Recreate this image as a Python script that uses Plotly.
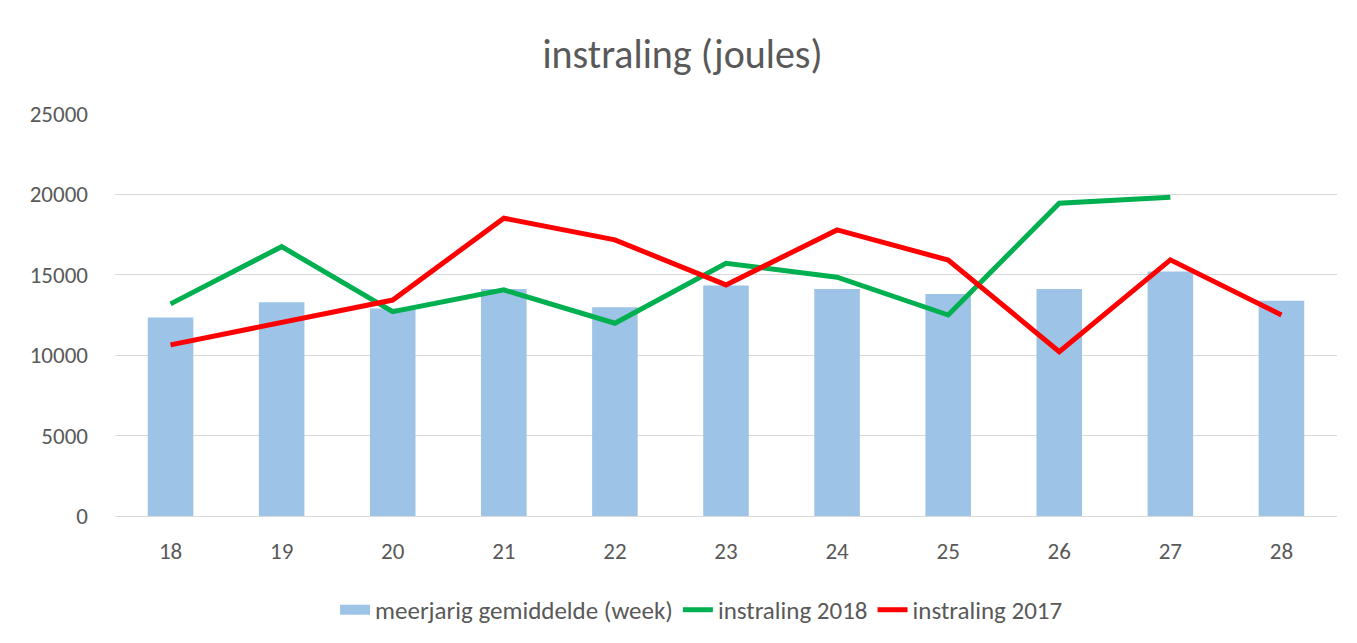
import plotly.graph_objects as go

weeks = ["18", "19", "20", "21", "22", "23", "24", "25", "26", "27", "28"]
avg_week = [12350, 13300, 12900, 14120, 12980, 14330, 14120, 13810, 14120, 15200, 13390]
instr_2018 = [13190, 16750, 12710, 14060, 11990, 15720, 14850, 12500, 19450, 19820, None]
instr_2017 = [10640, 12000, 13430, 18520, 17170, 14370, 17790, 15920, 10220, 15930, 12500]

FONT = "Calibri, Carlito, Lato, 'Open Sans', sans-serif"
GRAY = "#595959"
BAR_COLOR = "#9DC3E6"

fig = go.Figure()
fig.add_trace(go.Bar(x=weeks, y=avg_week, name="meerjarig gemiddelde (week)",
                     marker=dict(color=BAR_COLOR, line=dict(width=0)),
                     showlegend=False, legendgroup="avg"))
# legend entry drawn as a wide block, like the original
fig.add_trace(go.Scatter(x=[None], y=[None], name="meerjarig gemiddelde (week)", mode="lines",
                         line=dict(color=BAR_COLOR, width=16), legendgroup="avg",
                         hoverinfo="skip"))
fig.add_trace(go.Scatter(x=weeks, y=instr_2018, name="instraling 2018", mode="lines",
                         line=dict(color="#00B050", width=5), connectgaps=False))
fig.add_trace(go.Scatter(x=weeks, y=instr_2017, name="instraling 2017", mode="lines",
                         line=dict(color="#FF0000", width=5)))

fig.update_layout(
    width=1349, height=635,
    paper_bgcolor="white", plot_bgcolor="white",
    margin=dict(l=107, r=20, t=106, b=127, autoexpand=False),
    bargap=0.59,
    title=dict(text="instraling (joules)", x=0.5, xanchor="center", y=0.927, yanchor="middle",
               font=dict(family=FONT, size=40, color=GRAY)),
    font=dict(family=FONT, size=23, color=GRAY),
    xaxis=dict(type="category", showgrid=False, showline=True, linecolor="#d9d9d9", linewidth=1,
               ticks="", ticklabelstandoff=14, tickfont=dict(size=23, color=GRAY)),
    yaxis=dict(range=[0, 25000], dtick=5000, showgrid=True, gridcolor="#d9d9d9", gridwidth=1,
               zeroline=False, showline=False, ticks="", ticklabelstandoff=26,
               tickformat="d", tickfont=dict(size=23, color=GRAY)),
    legend=dict(orientation="h", x=0.48, xanchor="center", yref="container", y=0.052,
                yanchor="middle", font=dict(size=25, color=GRAY), traceorder="normal"),
    showlegend=True,
)

fig.write_html("out.html")
